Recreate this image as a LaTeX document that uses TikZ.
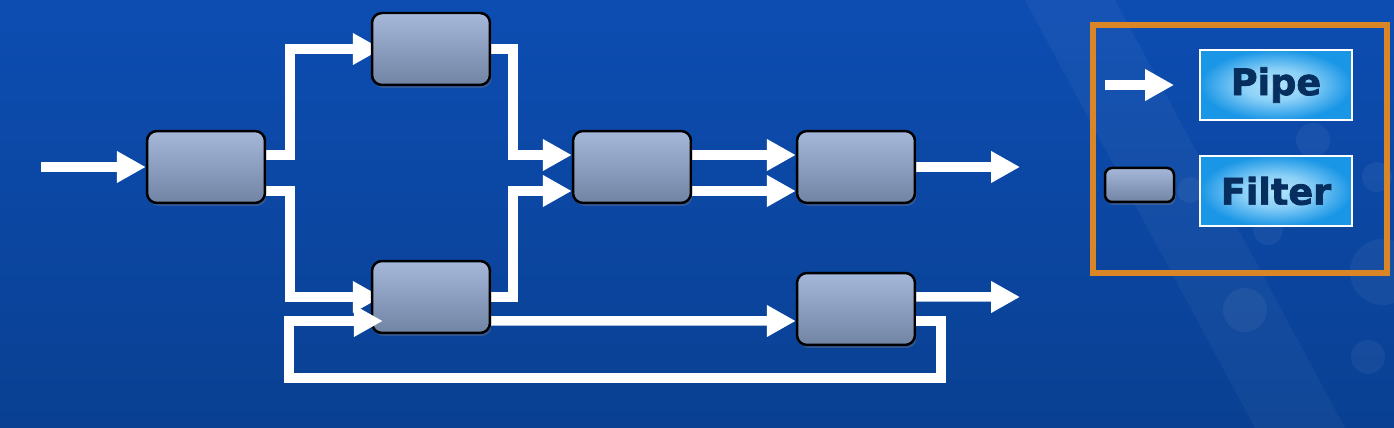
\documentclass[tikz,border=0pt]{standalone}
\usepackage{fontspec}
\newfontfamily\tagfont{DejaVu Sans Bold}[FakeBold=2]
\usetikzlibrary{arrows.meta,shadows,positioning}
\definecolor{bgtop}{RGB}{13,77,178}
\definecolor{bgbot}{RGB}{9,64,146}
\definecolor{filttop}{RGB}{166,184,218}
\definecolor{filtbot}{RGB}{114,132,164}
\definecolor{frame}{RGB}{218,133,38}
\definecolor{taglight}{RGB}{178,228,253}
\definecolor{tagblue}{RGB}{26,150,230}
\definecolor{tagtext}{RGB}{6,46,94}
\pgfdeclareradialshading{tagglow}{\pgfpoint{0bp}{0bp}}{color(0bp)=(taglight); color(11bp)=(taglight!75!tagblue); color(25bp)=(tagblue); color(50bp)=(tagblue)}
\pgfdeclarelayer{back}
\pgfdeclarelayer{front}
\pgfsetlayers{back,main,front}
\tikzset{filt/.style={rectangle,rounded corners=0.2cm,draw=black,line width=0.05cm,top color=filttop,bottom color=filtbot,minimum width=2.36cm,minimum height=1.44cm,inner sep=0pt,drop shadow={shadow xshift=0.03cm,shadow yshift=-0.06cm,opacity=0.35}},
pipe/.style={white,line width=0.19cm,-{Triangle[length=0.58cm,width=0.6cm]}},
tag/.style={draw=white,line width=0.04cm,shading=tagglow,minimum width=3.04cm,minimum height=1.42cm,inner sep=0pt,text=tagtext,font=\tagfont\fontsize{20.8}{24}\selectfont}}

\begin{document}
\begin{tikzpicture}[x=0.02cm,y=-0.02cm]
    \useasboundingbox (0,0) rectangle (1394,428);
    \begin{pgfonlayer}{back}
        \fill[top color=bgtop,bottom color=bgbot] (0,0) rectangle (1394,428);
        \fill[white,opacity=0.04] (1025,0) -- (1115,0) -- (1345,428) -- (1255,428) -- cycle;
        \foreach \cx/\cy/\r in {1313/140/17,1377/177/15,1383/272/33,1245/310/22,1368/357/17,1268/230/15,1190/190/13}
            \fill[white,opacity=0.05] (\cx,\cy) circle[radius=\r];
    \end{pgfonlayer}
    % filters
    \begin{pgfonlayer}{front}
        \node (f1) [filt] at (206,167) {};
        \node (f2) [filt] at (431,49) {};
        \node (f3) [filt] at (632,167) {};
        \node (f4) [filt] at (856,167) {};
        \node (f5) [filt] at (431,297) {};
        \node (f6) [filt] at (856,309) {};
    \end{pgfonlayer}
    \coordinate (in) at (41,167);
    \coordinate (out1) at (1020,167);
    \coordinate (out2) at (1020,297);
    \coordinate (loop) at (289,378);
    % pipes
    \draw[pipe] (in) -- (f1);
    \draw[pipe] ([yshift=.24cm]f1.east) -- ++(24,0) |- ([xshift=.22cm]f2.west);
    \draw[pipe] ([yshift=-.48cm]f1.east) -- ++(24,0) |- ([xshift=.22cm]f5.west);
    \draw[pipe] (f2.east) -- ++(22,0) |- ([yshift=.24cm]f3.west);
    \draw[pipe] (f5.east) -- ++(22,0) |- ([yshift=-.48cm]f3.west);
    \draw[pipe] ([yshift=.24cm]f3.east) -- ([yshift=.24cm]f4.west);
    \draw[pipe] ([yshift=-.48cm]f3.east) -- ([yshift=-.48cm]f4.west);
    \draw[pipe] (f4) -- (out1);
    \draw[pipe] ([yshift=-.48cm]f5.east) -- ([yshift=-.24cm]f6.west);
    \draw[pipe] ([yshift=.24cm]f6.east) -- (out2);
    \begin{pgfonlayer}{front}
        \draw[pipe] ([yshift=-.24cm]f6.east) -- ++(25,0) |- (loop) |- ([xshift=.24cm,yshift=-.48cm]f5.west);
    \end{pgfonlayer}
    % legend
    \node (legend) [draw=frame,line width=0.12cm,minimum width=5.88cm,minimum height=4.96cm,inner sep=0pt] at (1240,149) {};
    \coordinate (keyin) at (1105,85);
    \coordinate (keyout) at (1174,85);
    \draw[pipe] (keyin) -- (keyout);
    \node (keyfilt) [filt,minimum width=1.38cm,minimum height=0.68cm,rounded corners=0.14cm] at (1139.5,185) {};
    \node (pipetag) [tag] at (1276,85) {Pipe};
    \node (filttag) [tag] at (1276,191) {Filter};
\end{tikzpicture}
\end{document}
